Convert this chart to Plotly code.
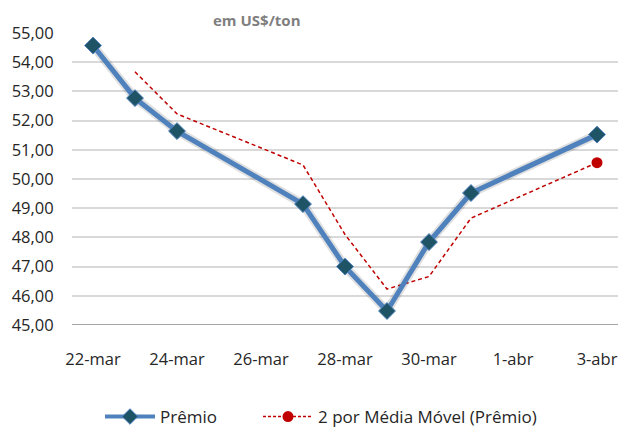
import plotly.graph_objects as go

dates = ["2017-03-22", "2017-03-23", "2017-03-24", "2017-03-27", "2017-03-28",
         "2017-03-29", "2017-03-30", "2017-03-31", "2017-04-03"]
premio = [54.57, 52.77, 51.64, 49.14, 47.00, 45.48, 47.84, 49.52, 51.52]

ma_dates = ["2017-03-23", "2017-03-24", "2017-03-27", "2017-03-28",
            "2017-03-29", "2017-03-30", "2017-03-31", "2017-04-03"]
media_movel = [53.67, 52.23, 50.48, 48.10, 46.23, 46.66, 48.66, 50.56]

tick_dates = ["2017-03-22", "2017-03-24", "2017-03-26", "2017-03-28",
              "2017-03-30", "2017-04-01", "2017-04-03"]
tick_text = ["22-mar", "24-mar", "26-mar", "28-mar", "30-mar", "1-abr", "3-abr"]
y_ticks = [45, 46, 47, 48, 49, 50, 51, 52, 53, 54, 55]
y_text = ["45,00", "46,00", "47,00", "48,00", "49,00", "50,00",
          "51,00", "52,00", "53,00", "54,00", "55,00"]

BLUE = "#4F81BD"
TEAL = "#1F5466"
RED = "#C00000"
FONT = "Open Sans"
TXT = "#262626"

fig = go.Figure()

# moving average (trend) line
fig.add_trace(go.Scatter(
    x=ma_dates, y=media_movel, mode="lines",
    line=dict(color=RED, width=1.5, dash="4px,3px"),
    showlegend=False, hoverinfo="skip"))
fig.add_trace(go.Scatter(
    x=ma_dates[-1:], y=media_movel[-1:], mode="markers",
    marker=dict(color=RED, size=11, symbol="circle"),
    showlegend=False))

# shadow for main line
fig.add_trace(go.Scatter(
    x=dates, y=premio, mode="lines",
    line=dict(color="rgba(0,0,0,0.12)", width=9),
    showlegend=False, hoverinfo="skip"))
fig.add_trace(go.Scatter(
    x=dates, y=premio, mode="lines+markers",
    line=dict(color=BLUE, width=5),
    marker=dict(symbol="diamond", size=13, color=TEAL,
                line=dict(color=BLUE, width=1)),
    showlegend=False))

# legend entries
fig.add_trace(go.Scatter(
    x=[None], y=[None], mode="lines+markers", name="Prêmio", legend="legend",
    line=dict(color=BLUE, width=4),
    marker=dict(symbol="diamond", size=12, color=TEAL,
                line=dict(color=BLUE, width=1))))
fig.add_trace(go.Scatter(
    x=[None], y=[None], mode="lines+markers", name="2 por Média Móvel (Prêmio)",
    legend="legend2",
    line=dict(color=RED, width=1.5, dash="3px,2px"),
    marker=dict(symbol="circle", size=11, color=RED)))

legend_common = dict(
    orientation="h", xref="container", yref="container",
    y=1 - 417 / 427, xanchor="left", yanchor="middle",
    font=dict(family=FONT, size=17, color=TXT),
    itemwidth=50, bgcolor="rgba(0,0,0,0)",
)

fig.update_layout(
    width=622, height=427,
    margin=dict(l=72, r=4, t=33, b=102),
    paper_bgcolor="white", plot_bgcolor="white",
    font=dict(family=FONT, size=16, color=TXT),
    xaxis=dict(
        type="date",
        range=["2017-03-21 12:00", "2017-04-03 12:00"],
        tickvals=tick_dates, ticktext=tick_text,
        showgrid=False, zeroline=False,
        showline=False, automargin=False,
        ticks="outside", ticklen=19, tickcolor="rgba(0,0,0,0)",
        tickfont=dict(family=FONT, size=16.5, color=TXT),
        fixedrange=True,
    ),
    yaxis=dict(
        range=[45, 55],
        tickvals=y_ticks, ticktext=y_text,
        showgrid=True, gridcolor="#D9D9D9", gridwidth=1.5,
        zeroline=False, showline=False, automargin=False,
        ticks="outside", ticklen=14, tickcolor="rgba(0,0,0,0)",
        tickfont=dict(family=FONT, size=16.5, color=TXT),
        fixedrange=True,
    ),
    legend=dict(legend_common, x=100 / 622),
    legend2=dict(legend_common, x=258 / 622),
    shapes=[dict(type="line", xref="paper", yref="y", x0=0, x1=1, y0=45, y1=45,
                 line=dict(color="#868686", width=1.5), layer="above")],
    annotations=[dict(
        text="<b>em US$/ton</b>", xref="paper", yref="paper",
        x=(257 - 72) / 546, y=1 + (33 - 20) / 292,
        xanchor="center", yanchor="middle", showarrow=False,
        font=dict(family=FONT, size=15, color="#7F7F7F"))],
)

fig.write_html("out.html", config={"displayModeBar": False},
               post_script="document.body.style.margin='0';document.body.style.padding='0';")
